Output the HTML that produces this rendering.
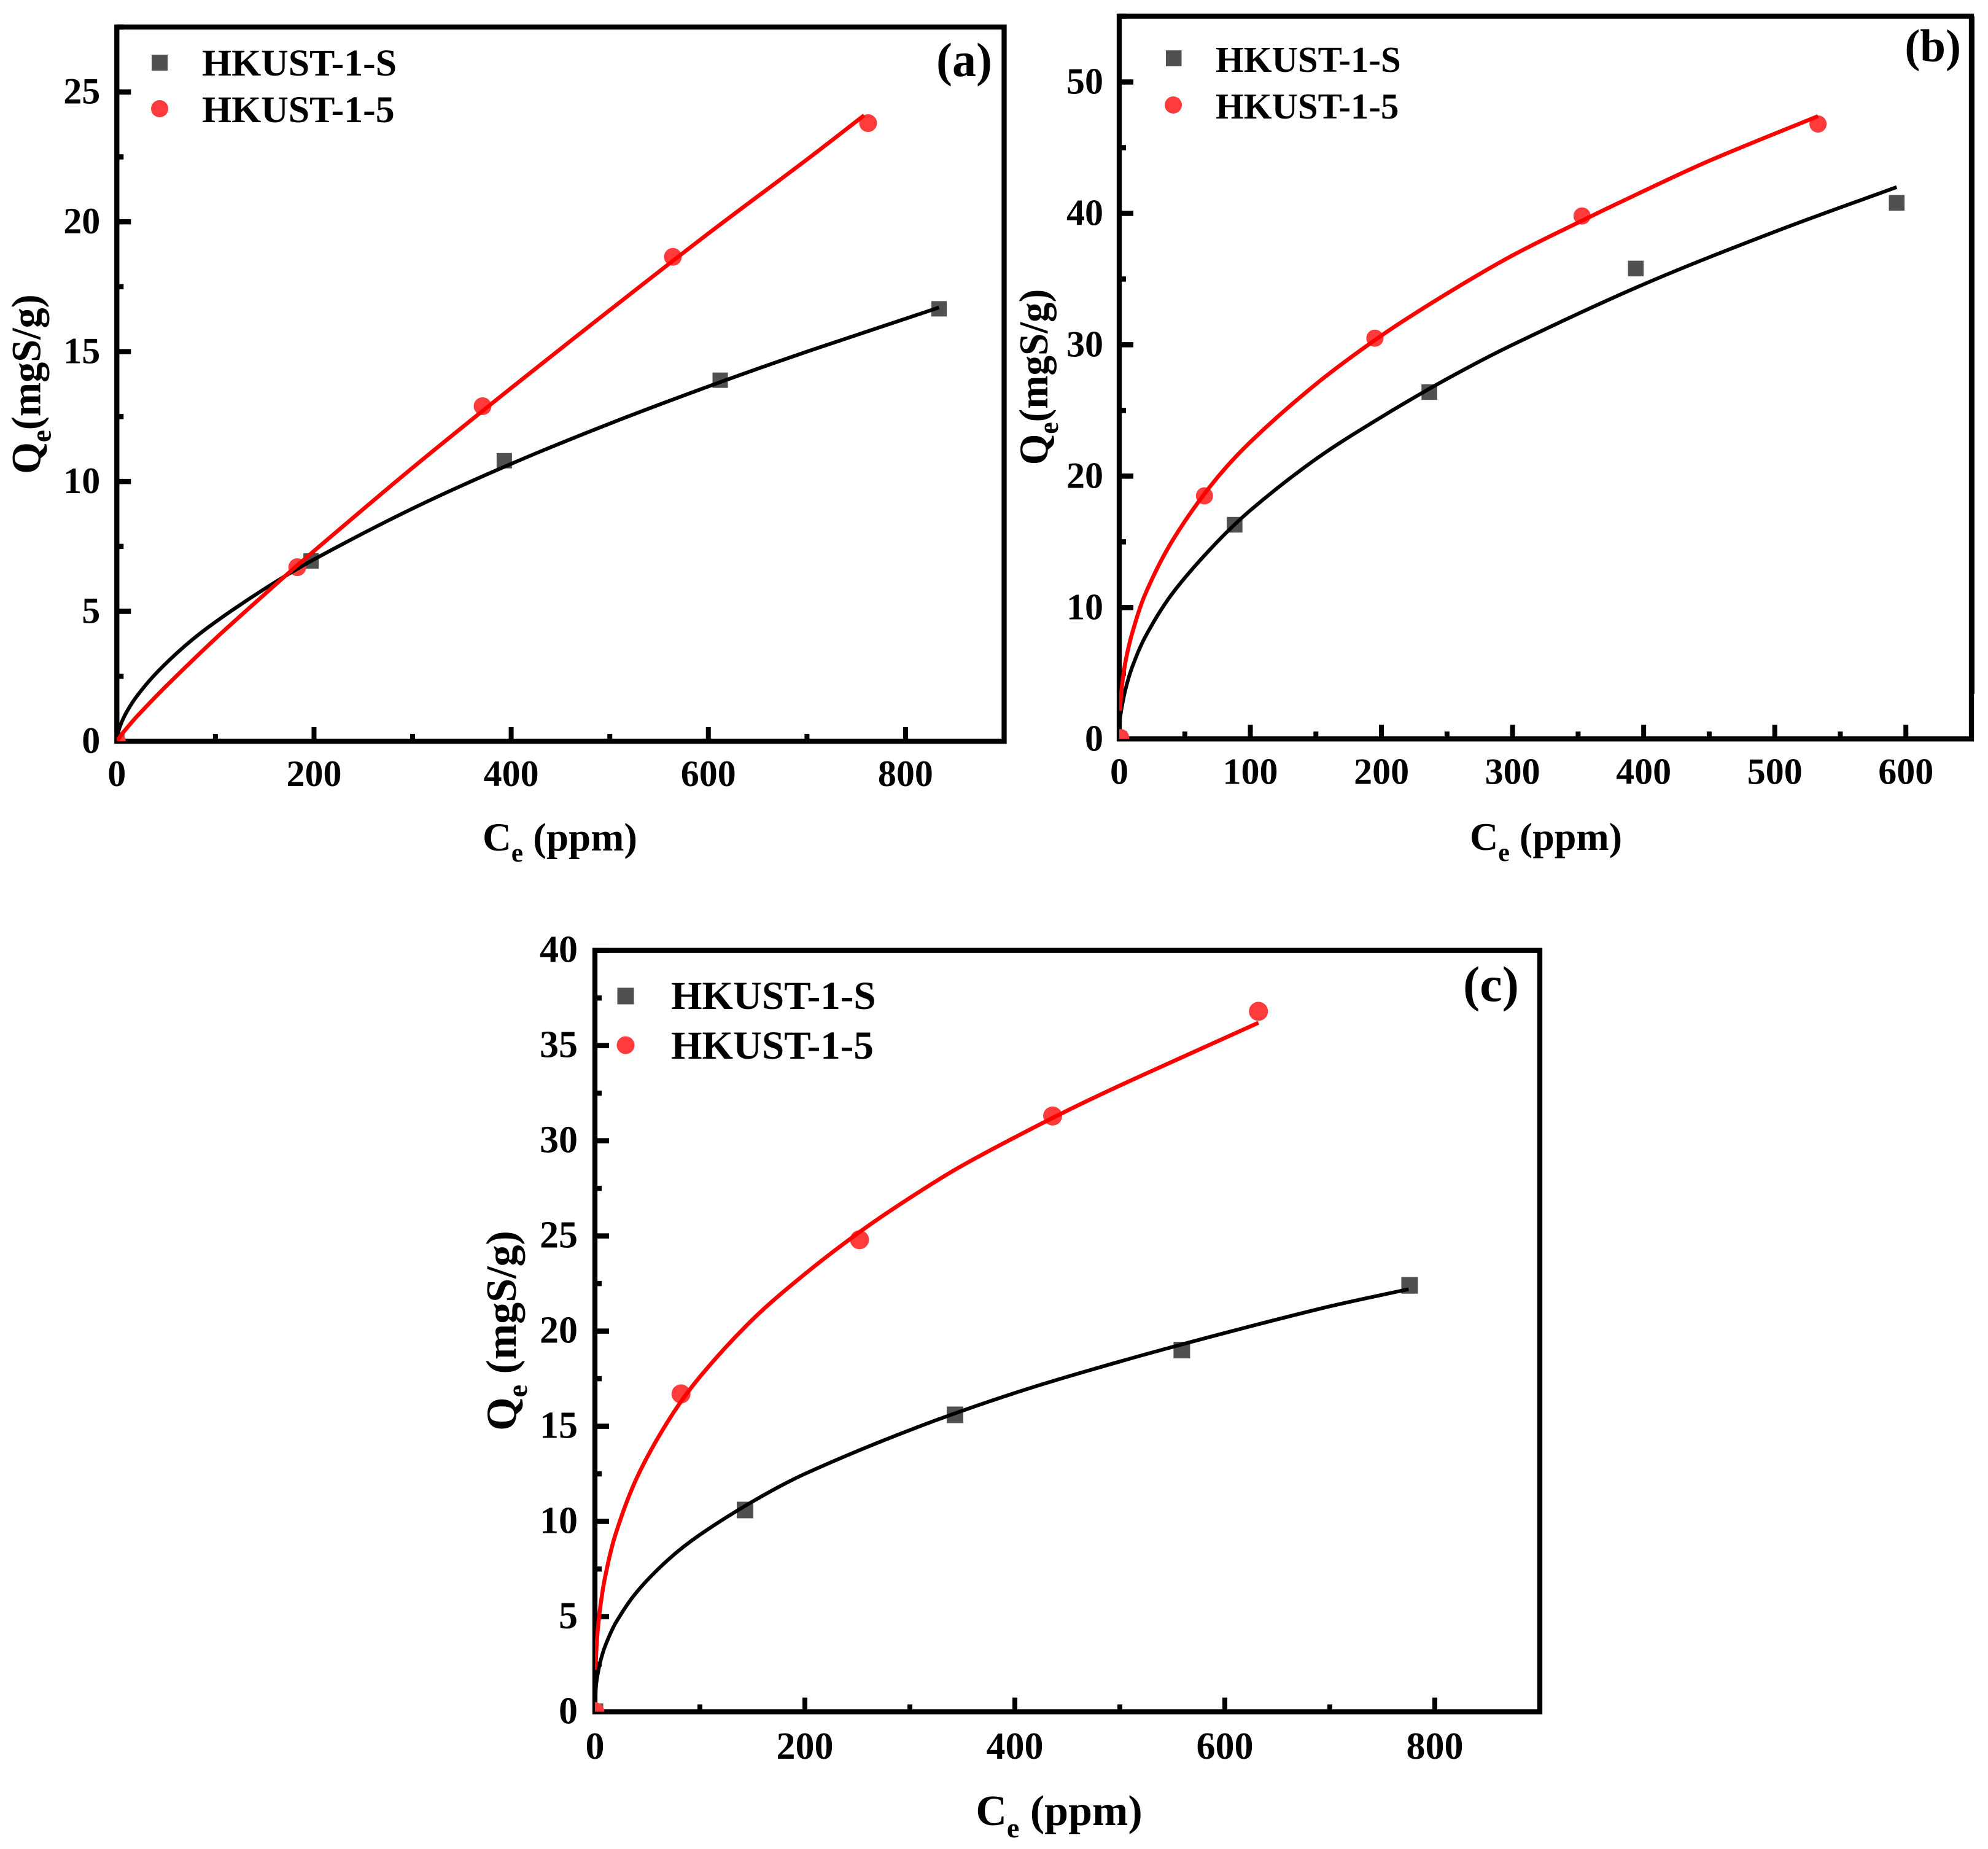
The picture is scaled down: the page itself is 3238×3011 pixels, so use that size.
<!DOCTYPE html>
<html lang="en">
<head>
<meta charset="utf-8">
<title>HKUST-1 adsorption isotherms</title>
<style>
html,body{margin:0;padding:0;background:#fff;width:3238px;height:3011px;overflow:hidden}
svg{display:block}
text{font-family:"Liberation Serif",serif;font-weight:bold;fill:#000}
</style>
</head>
<body>
<svg id="figure" xmlns="http://www.w3.org/2000/svg" width="3238" height="3011" viewBox="0 0 3238 3011">
  <rect width="3238" height="3011" fill="#fff"/>

  <g id="panel-a"></g>
  <g>
    <rect x="247" y="89" width="26" height="26" fill="#505050"/>
    <circle cx="260" cy="177" r="14" fill="#ff3b3b"/>
    <text font-size="61.8" x="329" y="123">HKUST-1-S</text>
    <text font-size="61.8" x="329" y="199">HKUST-1-5</text>
    <text font-size="78" x="1616" y="124" text-anchor="end">(a)</text>
    <text font-size="65" x="912" y="1385" text-anchor="middle">C<tspan font-size="43" dy="18">e</tspan><tspan dy="-18"> (ppm)</tspan></text>
    <text font-size="68" transform="translate(65.7,625.5) rotate(-90) scale(0.975,1)" text-anchor="middle">Q<tspan font-size="46" dy="17">e</tspan><tspan dy="-17">(mgS/g)</tspan></text>
  </g>

  <g id="panel-b"></g>
  <g>
    <rect x="1899" y="82" width="25.5" height="26" fill="#505050"/>
    <circle cx="1911" cy="171" r="14" fill="#ff3b3b"/>
    <text font-size="58.8" x="1980" y="117">HKUST-1-S</text>
    <text font-size="58.8" x="1980" y="193">HKUST-1-5</text>
    <text font-size="75" x="3194" y="100" text-anchor="end">(b)</text>
    <text font-size="64" x="2518" y="1384" text-anchor="middle">C<tspan font-size="42" dy="18">e</tspan><tspan dy="-18"> (ppm)</tspan></text>
    <text font-size="67" transform="translate(1706,614) rotate(-90) scale(0.97,1)" text-anchor="middle">Q<tspan font-size="45" dy="17">e</tspan><tspan dy="-17">(mgS/g)</tspan></text>
  </g>

  <g id="panel-c"></g>
  <g>
    <rect x="1005.5" y="1608.5" width="27" height="27" fill="#505050"/>
    <circle cx="1019" cy="1702" r="14.5" fill="#ff3b3b"/>
    <text font-size="65" x="1093" y="1643">HKUST-1-S</text>
    <text font-size="65" x="1093" y="1724">HKUST-1-5</text>
    <text font-size="82" x="2474" y="1630" text-anchor="end">(c)</text>
    <text font-size="70" x="1725" y="2972" text-anchor="middle">C<tspan font-size="46" dy="20">e</tspan><tspan dy="-20"> (ppm)</tspan></text>
    <text font-size="70" transform="translate(840,2167) rotate(-90)" text-anchor="middle">Q<tspan font-size="46" dy="18">e</tspan><tspan dy="-18"> (mgS/g)</tspan></text>
  </g>
</svg>
<script>
// Panel (a) data
const aXTicks = [0, 200, 400, 600, 800];
const aYTicks = [0, 5, 10, 15, 20, 25];
const aSX = [0, 197, 393, 612, 834];
const aSY = [0, 6.94, 10.8, 13.9, 16.65];
const a5X = [0, 183, 371, 564, 762];
const a5Y = [0, 6.7, 12.9, 18.65, 23.8];
const aFitSX = [0, 2, 5, 10, 20, 40, 70, 100, 150, 200, 300, 400, 500, 600, 700, 834];
const aFitSY = [0, 0.42, 0.74, 1.13, 1.72, 2.62, 3.7, 4.59, 5.87, 7, 8.96, 10.68, 12.23, 13.66, 15, 16.7];
const aFit5X = [0, 5, 10, 20, 50, 100, 150, 190, 300, 400, 500, 600, 700, 758];
const aFit5Y = [0, 0.27, 0.5, 0.94, 2.12, 3.95, 5.66, 7, 10.53, 13.6, 16.6, 19.55, 22.4, 24.1];

// Panel (b) data
const bXTicks = [0, 100, 200, 300, 400, 500, 600];
const bYTicks = [0, 10, 20, 30, 40, 50];
const bSX = [0, 88, 236.5, 394, 593];
const bSY = [0, 16.3, 26.4, 35.8, 40.8];
const b5X = [1, 65, 195, 353, 533];
const b5Y = [0.1, 18.5, 30.5, 39.8, 46.8];
const bFitSX = [0.5, 2, 5, 10, 20, 40, 70, 100, 150, 200, 250, 300, 400, 500, 593];
const bFitSY = [1.5, 2.45, 3.87, 5.5, 7.8, 11, 14.5, 17.4, 21.3, 24.5, 27.4, 30, 34.6, 38.6, 42];
const bFit5X = [0.5, 2, 5, 10, 20, 40, 70, 100, 150, 200, 250, 300, 350, 400, 450, 533];
const bFit5Y = [2.15, 4, 6, 8.1, 11.06, 15, 19.3, 22.6, 27, 30.7, 33.9, 36.8, 39.3, 41.7, 44, 47.4];

// Panel (c) data
const cXTicks = [0, 200, 400, 600, 800];
const cYTicks = [0, 5, 10, 15, 20, 25, 30, 35, 40];
const cSX = [0, 143, 343, 559, 776];
const cSY = [0, 10.6, 15.6, 19, 22.4];
const c5X = [0, 82, 252, 436, 632];
const c5Y = [0, 16.7, 24.8, 31.3, 36.8];
const cFitSX = [0.3, 1, 2, 5, 10, 20, 40, 70, 100, 150, 200, 300, 400, 500, 600, 700, 775];
const cFitSY = [0.6, 1.32, 1.76, 2.6, 3.49, 4.69, 6.3, 8, 9.3, 11.04, 12.5, 14.8, 16.75, 18.4, 19.9, 21.3, 22.2];
const cFit5X = [0.5, 2, 5, 10, 20, 40, 70, 100, 150, 200, 252, 300, 350, 436, 500, 632];
const cFit5Y = [2.2, 3.83, 5.46, 7.16, 9.39, 12.3, 15.3, 17.6, 20.6, 23, 25.2, 27, 28.7, 31.2, 32.9, 36.2];

const SVG_NS = 'http://www.w3.org/2000/svg';

function makeEl(tag, parent, attrs) {
  const el = document.createElementNS(SVG_NS, tag);
  for (const k in attrs) el.setAttribute(k, attrs[k]);
  parent.appendChild(el);
  return el;
}

function smoothPath(pts) {
  let d = 'M' + pts[0][0].toFixed(2) + ' ' + pts[0][1].toFixed(2);
  for (let i = 0; i < pts.length - 1; i++) {
    const p0 = pts[Math.max(i - 1, 0)];
    const p1 = pts[i];
    const p2 = pts[i + 1];
    const p3 = pts[Math.min(i + 2, pts.length - 1)];
    const seg = Math.hypot(p2[0] - p1[0], p2[1] - p1[1]);
    const l1 = Math.hypot(p2[0] - p0[0], p2[1] - p0[1]) || 1;
    const l2 = Math.hypot(p3[0] - p1[0], p3[1] - p1[1]) || 1;
    const c1x = p1[0] + (p2[0] - p0[0]) / l1 * seg / 3;
    const c1y = p1[1] + (p2[1] - p0[1]) / l1 * seg / 3;
    const c2x = p2[0] - (p3[0] - p1[0]) / l2 * seg / 3;
    const c2y = p2[1] - (p3[1] - p1[1]) / l2 * seg / 3;
    d += 'C' + c1x.toFixed(2) + ' ' + c1y.toFixed(2) + ' ' + c2x.toFixed(2) + ' ' + c2y.toFixed(2) + ' ' + p2[0].toFixed(2) + ' ' + p2[1].toFixed(2);
  }
  return d;
}

function drawPanel(p) {
  const g = document.getElementById(p.id);
  const sx = v => p.left + (v / p.xMax) * (p.right - p.left);
  const sy = v => p.bottom - (v / p.yMax) * (p.bottom - p.top);
  const clipId = p.id + '-clip';
  const defs = makeEl('defs', g, {});
  const clip = makeEl('clipPath', defs, { id: clipId });
  makeEl('rect', clip, { x: p.left, y: p.top, width: p.right - p.left, height: p.bottom - p.top });

  // Minor and major ticks
  const ticks = makeEl('g', g, { stroke: '#000', fill: 'none' });
  
  
  const stepX = p.xTicks[1] - p.xTicks[0];
  const stepY = p.yTicks[1] - p.yTicks[0];
  for (let v = stepX / 2; v <= p.xMax + 0.001; v += stepX / 2) {
    const major = p.xTicks.includes(v);
    const len = major ? 23 : 12;
    const t = makeEl('line', ticks, { x1: sx(v), x2: sx(v), y1: p.bottom, y2: p.bottom - len, 'stroke-width': 8 });
    
    
  }
  for (let v = stepY / 2; v <= p.yMax + 0.001; v += stepY / 2) {
    const major = p.yTicks.includes(v);
    const len = major ? 23 : 11;
    const t = makeEl('line', ticks, { x1: p.left, x2: p.left + len, y1: sy(v), y2: sy(v), 'stroke-width': 8.5 });
    
    
  }

  // Tick labels
  p.xTicks.forEach(v => {
    const t = makeEl('text', g, { 'font-size': p.tickFont, x: sx(v), y: p.bottom + p.xLabelGap, 'text-anchor': 'middle' });
    t.textContent = String(v);
    
    
  });
  p.yTicks.forEach(v => {
    const t = makeEl('text', g, { 'font-size': p.tickFont, x: p.left - p.yLabelGap, y: sy(v) + 19, 'text-anchor': 'end' });
    t.textContent = String(v);
    
    
  });

  // Frame
  const frame = makeEl('rect', g, { x: p.left, y: p.top, width: p.right - p.left, height: p.bottom - p.top, fill: 'none', stroke: '#000', 'stroke-width': 8.3 });
  
  
  if (p.spineBreakY) {
    const seg = makeEl('line', g, { x1: p.right + 1, x2: p.right + 1, y1: p.top, y2: p.spineBreakY, stroke: '#000', 'stroke-width': 8 });
    
    
  }

  // Data marks
  const plot = makeEl('g', g, { 'clip-path': 'url(#' + clipId + ')' });
  
  
  p.sX.forEach((v, i) => {
    const m = makeEl('rect', plot, { x: sx(v) - p.sq / 2, y: sy(p.sY[i]) - p.sq / 2, width: p.sq, height: p.sq, fill: '#505050' });
    
    
  });
  p.rX.forEach((v, i) => {
    const m = makeEl('circle', plot, { cx: sx(v), cy: sy(p.rY[i]), r: p.r, fill: '#ff3b3b' });
    
    
  });
  const fitS = makeEl('path', plot, { d: smoothPath(p.fitSX.map((v, i) => [sx(v), sy(p.fitSY[i])])), fill: 'none', stroke: '#000', 'stroke-width': 6 });
  
  
  const fit5 = makeEl('path', plot, { d: smoothPath(p.fit5X.map((v, i) => [sx(v), sy(p.fit5Y[i])])), fill: 'none', stroke: '#f00', 'stroke-width': 6.5 });
  
  
  if (p.blackOnTop) plot.appendChild(fitS);
}

drawPanel({
  id: 'panel-a', left: 190.3, right: 1635.5, top: 44, bottom: 1207, xMax: 900, yMax: 27.5,
  yLabelGap: 27, xLabelGap: 73, tickFont: 60, sq: 25, r: 14.5,
  xTicks: aXTicks, yTicks: aYTicks, sX: aSX, sY: aSY, rX: a5X, rY: a5Y,
  fitSX: aFitSX, fitSY: aFitSY, fit5X: aFit5X, fit5Y: aFit5Y
});
drawPanel({
  id: 'panel-b', left: 1823, right: 3211, top: 26.5, bottom: 1203.3, xMax: 650, yMax: 55,
  yLabelGap: 26, xLabelGap: 73, tickFont: 60, sq: 25.5, r: 14, spineBreakY: 1130,
  xTicks: bXTicks, yTicks: bYTicks, sX: bSX, sY: bSY, rX: b5X, rY: b5Y,
  fitSX: bFitSX, fitSY: bFitSY, fit5X: bFit5X, fit5Y: bFit5Y
});
drawPanel({
  id: 'panel-c', left: 969, right: 2508, top: 1547.7, bottom: 2787.5, xMax: 900, yMax: 40,
  yLabelGap: 28, xLabelGap: 76.5, tickFont: 62, sq: 27, r: 15.5, blackOnTop: true,
  xTicks: cXTicks, yTicks: cYTicks, sX: cSX, sY: cSY, rX: c5X, rY: c5Y,
  fitSX: cFitSX, fitSY: cFitSY, fit5X: cFit5X, fit5Y: cFit5Y
});
</script>
</body>
</html>
